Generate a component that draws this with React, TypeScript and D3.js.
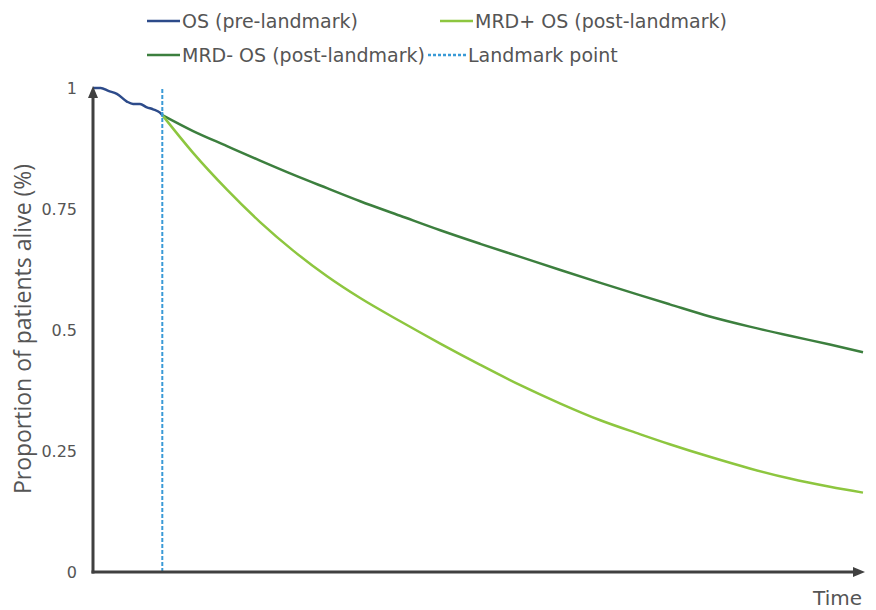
import React from "react";
import * as d3 from "d3";

const preTime = [0, 1, 2, 3.1, 4.4, 5.2, 6.1, 7.0, 7.8, 8.7, 9];
const preValue = [1.0, 1.0, 0.994, 0.988, 0.972, 0.967, 0.967, 0.96, 0.956, 0.949, 0.944];

const postTime = [9, 13, 17.4, 21.7, 26, 30.4, 34.7, 39.9, 45.1, 50.3, 55.5, 60.7, 65.8, 71, 74.9, 80.1, 85.3, 90.5, 95.7, 100];
const mrdNegValue = [0.944, 0.911, 0.88, 0.85, 0.821, 0.793, 0.766, 0.736, 0.706, 0.678, 0.651, 0.624, 0.598, 0.572, 0.553, 0.528, 0.507, 0.488, 0.47, 0.454];
const mrdPosValue = [0.944, 0.866, 0.79, 0.723, 0.664, 0.611, 0.566, 0.518, 0.472, 0.428, 0.386, 0.348, 0.314, 0.285, 0.264, 0.238, 0.214, 0.193, 0.176, 0.164];

const landmarkTime = 9;
const yTicks = [0, 0.25, 0.5, 0.75, 1];
const yTickLabels = ["0", "0.25", "0.5", "0.75", "1"];

const legendItems = [
  { label: "OS (pre-landmark)", color: "#2d4b8a", dashed: false },
  { label: "MRD+ OS (post-landmark)", color: "#8dc63f", dashed: false },
  { label: "MRD- OS (post-landmark)", color: "#3c7f3e", dashed: false },
  { label: "Landmark point", color: "#3a9ad6", dashed: true },
];

export default function App() {
  const W = 876, H = 610;
  const x = d3.scaleLinear().domain([0, 100]).range([93, 863]);
  const y = d3.scaleLinear().domain([0, 1]).range([572, 88]);
  const line = d3
    .line<[number, number]>()
    .x((d) => x(d[0]))
    .y((d) => y(d[1]))
    .curve(d3.curveMonotoneX);
  const pre = preTime.map((t, i) => [t, preValue[i]] as [number, number]);
  const neg = postTime.map((t, i) => [t, mrdNegValue[i]] as [number, number]);
  const pos = postTime.map((t, i) => [t, mrdPosValue[i]] as [number, number]);
  const font = "'DejaVu Sans', Verdana, sans-serif";
  const axisColor = "#404040";
  const legendPos = [
    [147, 21],
    [440, 21],
    [147, 55],
    [428, 55],
  ];
  return (
    <svg width={W} height={H} style={{ position: "absolute", left: 0, top: 0 }} fontFamily={font}>
      <rect width={W} height={H} fill="#fff" />
      {/* legend */}
      {legendItems.map((it, i) => {
        const [lx, ly] = legendPos[i];
        const len = it.dashed ? 38 : 33;
        return (
          <g key={it.label}>
            <line
              x1={lx}
              x2={lx + len}
              y1={ly}
              y2={ly}
              stroke={it.color}
              strokeWidth={2.5}
              strokeDasharray={it.dashed ? "3,2" : undefined}
            />
            <text x={lx + len + 2} y={ly} dy="0.35em" fontSize={19} fill="#555">
              {it.label}
            </text>
          </g>
        );
      })}
      {/* curves */}
      <path d={line(neg) || ""} fill="none" stroke="#3c7f3e" strokeWidth={2.5} />
      <path d={line(pos) || ""} fill="none" stroke="#8dc63f" strokeWidth={2.5} />
      <path d={line(pre) || ""} fill="none" stroke="#2d4b8a" strokeWidth={2.5} />
      {/* landmark */}
      <line
        x1={x(landmarkTime)}
        x2={x(landmarkTime)}
        y1={y(0)}
        y2={y(0.955)}
        stroke="#3a9ad6"
        strokeWidth={2}
        strokeDasharray="4,2"
      />
      <line
        x1={x(landmarkTime)}
        x2={x(landmarkTime)}
        y1={y(0.94)}
        y2={y(1)}
        stroke="#3a9ad6"
        strokeWidth={2}
        strokeDasharray="4,2"
      />
      {/* axes */}
      <line x1={x(0)} x2={x(0)} y1={y(0) + 1.5} y2={y(1) + 6} stroke={axisColor} strokeWidth={3} />
      <path d={`M${x(0) - 5},${y(1) + 10} L${x(0)},${y(1) - 2} L${x(0) + 5},${y(1) + 10} Z`} fill={axisColor} />
      <line x1={x(0) - 1.5} x2={x(100) - 6} y1={y(0)} y2={y(0)} stroke={axisColor} strokeWidth={3} />
      <path d={`M${x(100) - 10},${y(0) - 5} L${x(100) + 2},${y(0)} L${x(100) - 10},${y(0) + 5} Z`} fill={axisColor} />
      {yTicks.map((v, i) => (
        <text key={v} x={77} y={y(v)} dy="0.35em" textAnchor="end" fontSize={16} fill="#555">
          {yTickLabels[i]}
        </text>
      ))}
      <text
        transform={`translate(31,329) rotate(-90)`}
        textAnchor="middle"
        fontSize={23}
        fill="#555"
        fontFamily="'Open Sans', 'Noto Sans', sans-serif"
      >
        Proportion of patients alive (%)
      </text>
      <text x={862} y={605} textAnchor="end" fontSize={20} fill="#555">
        Time
      </text>
    </svg>
  );
}
